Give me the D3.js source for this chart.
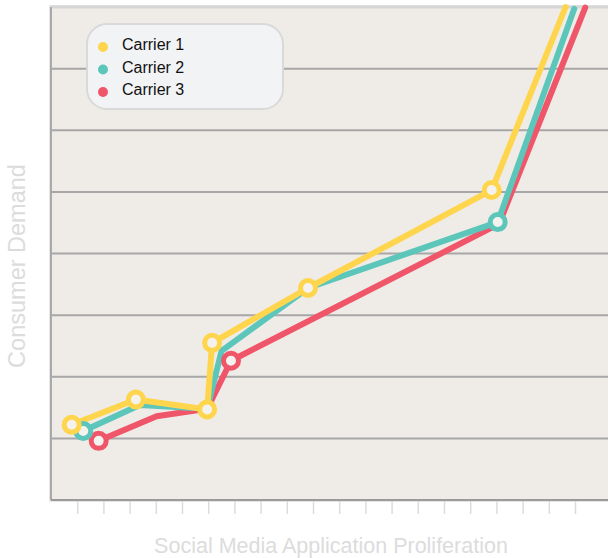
<!DOCTYPE html>
<html>
<head>
<meta charset="utf-8">
<script src="https://cdn.jsdelivr.net/npm/d3@7"></script>
<style>
  body { margin: 0; background: #fff; }
  svg { display: block; font-family: "Liberation Sans", Arial, sans-serif; }
</style>
</head>
<body>
<div id="chart"></div>
<script>
// series data (x = application proliferation, y = consumer demand)
var carrier1X = [0.79, 3.24, 5.96, 6.15, 9.81, 16.82, 19.64];
var carrier1Y = [1.22, 1.63, 1.47, 2.55, 3.44, 5.03, 8.0];
var carrier2X = [1.23, 3.39, 5.96, 6.51, 9.81, 17.05, 19.97];
var carrier2Y = [1.12, 1.54, 1.48, 2.42, 3.44, 4.51, 7.97];
var carrier3X = [1.82, 4.03, 5.96, 6.87, 17.10, 20.39];
var carrier3Y = [0.96, 1.36, 1.48, 2.26, 4.48, 7.99];

// which points get a ring marker
var carrier1Marks = [0, 1, 2, 3, 4, 5];
var carrier2Marks = [0, 5];
var carrier3Marks = [0, 3];

var seriesNames = ["Carrier 1", "Carrier 2", "Carrier 3"];
var xTicks = d3.range(1, 21);
var yGrid = [1, 2, 3, 4, 5, 6, 7];

var colors = ["#fed54d", "#5dc6bb", "#f0566a"];

var svgWidth = 608;
var svgHeight = 558;

var margin = { top: 7, right: -19, bottom: 58, left: 51 };
var width = svgWidth - margin.left - margin.right;
var height = svgHeight - margin.top - margin.bottom;

var svg = d3.select("#chart")
  .append("svg")
  .attr("width", svgWidth)
  .attr("height", svgHeight);

var chartGroup = svg.append("g")
  .attr("transform", `translate(${margin.left}, ${margin.top})`);

var xScale = d3.scaleLinear()
  .domain([0, 22])
  .range([0, 26.2 * 22]);

var yScale = d3.scaleLinear()
  .domain([0, 8])
  .range([height, 0]);

// plot background
chartGroup.append("rect")
  .attr("x", -2)
  .attr("y", -2)
  .attr("width", width + 4)
  .attr("height", height + 4)
  .attr("fill", "#e6e6e6");

chartGroup.append("rect")
  .attr("x", 0)
  .attr("y", 0)
  .attr("width", width)
  .attr("height", height)
  .attr("fill", "#efece8");

// top border
chartGroup.append("line")
  .attr("x1", 0).attr("x2", width)
  .attr("y1", 0).attr("y2", 0)
  .attr("stroke", "#d6d6d6")
  .attr("stroke-width", 3);

// horizontal grid
chartGroup.selectAll(".grid")
  .data(yGrid)
  .enter()
  .append("line")
  .attr("class", "grid")
  .attr("x1", 0)
  .attr("x2", width)
  .attr("y1", d => yScale(d))
  .attr("y2", d => yScale(d))
  .attr("stroke", "#a7a7a7")
  .attr("stroke-width", 2);

// left and bottom frame
chartGroup.append("line")
  .attr("x1", 0).attr("x2", 0)
  .attr("y1", 0).attr("y2", height)
  .attr("stroke", "#a9a9a9")
  .attr("stroke-width", 2);

chartGroup.append("line")
  .attr("x1", 0).attr("x2", width)
  .attr("y1", height).attr("y2", height)
  .attr("stroke", "#9a9a9a")
  .attr("stroke-width", 2);

// x axis ticks (no labels)
var xAxis = d3.axisBottom(xScale)
  .tickValues(xTicks)
  .tickSize(13)
  .tickFormat("");

var xAxisG = chartGroup.append("g")
  .attr("transform", `translate(0, ${height + 1})`)
  .call(xAxis);
xAxisG.select(".domain").remove();
xAxisG.selectAll(".tick line")
  .attr("stroke", "#dcdcdc")
  .attr("stroke-width", 1.5);

// lines
var series = [
  { name: seriesNames[0], xs: carrier1X, ys: carrier1Y, marks: carrier1Marks, color: colors[0] },
  { name: seriesNames[1], xs: carrier2X, ys: carrier2Y, marks: carrier2Marks, color: colors[1] },
  { name: seriesNames[2], xs: carrier3X, ys: carrier3Y, marks: carrier3Marks, color: colors[2] }
];

var line = d3.line()
  .x(d => xScale(d[0]))
  .y(d => yScale(d[1]));

// draw red first, yellow on top
var drawOrder = [2, 1, 0];

drawOrder.forEach(i => {
  var s = series[i];
  var pts = s.xs.map((x, j) => [x, s.ys[j]]);
  chartGroup.append("path")
    .datum(pts)
    .attr("d", line)
    .attr("fill", "none")
    .attr("stroke", s.color)
    .attr("stroke-width", 6)
    .attr("stroke-linecap", "round")
    .attr("stroke-linejoin", "round");
});

drawOrder.forEach(i => {
  var s = series[i];
  chartGroup.selectAll(".mark" + i)
    .data(s.marks)
    .enter()
    .append("circle")
    .attr("cx", j => xScale(s.xs[j]))
    .attr("cy", j => yScale(s.ys[j]))
    .attr("r", 7.5)
    .attr("fill", "#f4f2ee")
    .attr("stroke", s.color)
    .attr("stroke-width", 5);
});

// legend
var legend = svg.append("g");
legend.append("rect")
  .attr("x", 87)
  .attr("y", 24)
  .attr("width", 196)
  .attr("height", 85)
  .attr("rx", 20)
  .attr("fill", "#f2f3f5")
  .attr("stroke", "#d9d9d9")
  .attr("stroke-width", 2);

legend.selectAll(".ldot")
  .data(series)
  .enter()
  .append("circle")
  .attr("cx", 103)
  .attr("cy", (d, i) => 47 + i * 22.5)
  .attr("r", 5)
  .attr("fill", d => d.color);

legend.selectAll(".ltext")
  .data(series)
  .enter()
  .append("text")
  .attr("x", 122)
  .attr("y", (d, i) => 50 + i * 22.5)
  .style("font-size", "16px")
  .style("fill", "#111")
  .text(d => d.name);

// axis titles
svg.append("text")
  .attr("transform", "rotate(-90)")
  .attr("x", -266)
  .attr("y", 25)
  .attr("text-anchor", "middle")
  .style("font-size", "23.5px")
  .style("fill", "#dcdcdc")
  .text("Consumer Demand");

svg.append("text")
  .attr("x", 331)
  .attr("y", 553)
  .attr("text-anchor", "middle")
  .style("font-size", "21.5px")
  .style("fill", "#dcdcdc")
  .text("Social Media Application Proliferation");
</script>
</body>
</html>
